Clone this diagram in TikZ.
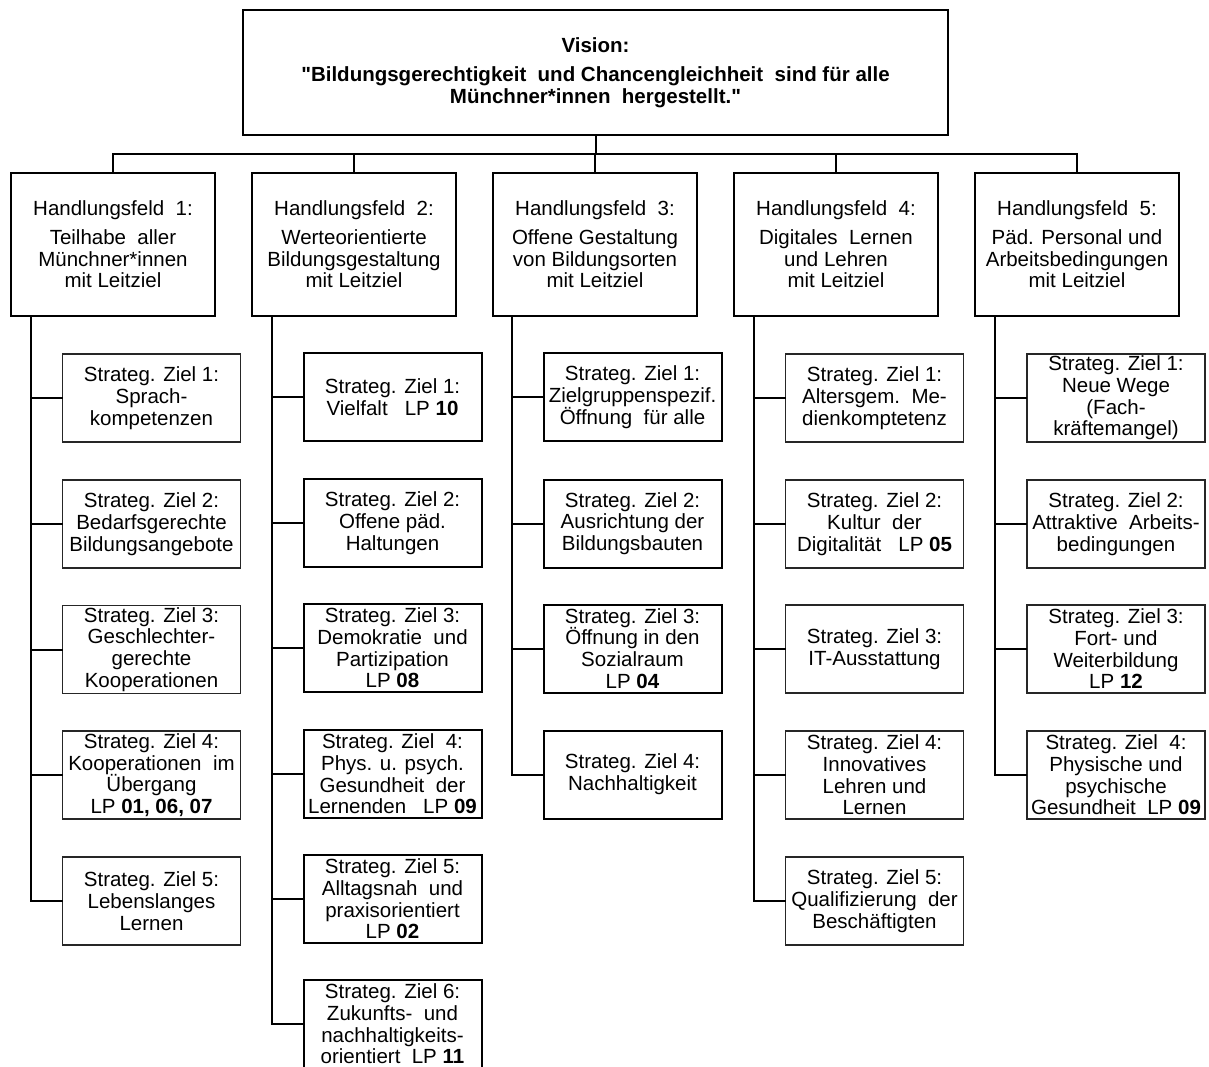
\documentclass[tikz,border=0pt]{standalone}
\usepackage{fontspec}
\setmainfont{Liberation Sans}
\newcommand\myfs{\fontsize{20.5}{21.7}\selectfont}
\begin{document}
\begin{tikzpicture}[x=1pt,y=-1pt,
  vis/.style={draw, line width=2pt, minimum width=705pt, minimum height=125pt, align=center, inner sep=0pt, font=\myfs\bfseries},
  hf/.style={draw, line width=2pt, minimum width=204pt, minimum height=143pt, align=center, inner sep=0pt, font=\myfs},
  sz/.style={draw=black!85, line width=1.3pt, minimum width=178pt, minimum height=88pt, align=center, inner sep=0pt, font=\myfs},
  szb/.style={sz, draw=black, line width=2pt},
  ln/.style={line width=2pt, line cap=rect}]
\useasboundingbox (0,0) rectangle (1209,1066);
\fill[white] (0,0) rectangle (1209,1066);

% Vision
\node[vis] (vis) at (595.5,72.5) {Vision:\\[8pt]\textquotedbl Bildungsgerechtigkeit\ \ und Chancengleichheit\ \ sind für alle\\Münchner*innen\ \ hergestellt.\textquotedbl};

% Handlungsfelder
\node[hf] (hf1) at (113,244.5) {Handlungsfeld\ \ 1:\\[7pt]Teilhabe\ \ aller\\Münchner*innen\\mit Leitziel};
\node[hf] (hf2) at (354,244.5) {Handlungsfeld\ \ 2:\\[7pt]Werteorientierte\\Bildungsgestaltung\\mit Leitziel};
\node[hf] (hf3) at (595,244.5) {Handlungsfeld\ \ 3:\\[7pt]Offene Gestaltung\\von Bildungsorten\\mit Leitziel};
\node[hf] (hf4) at (836,244.5) {Handlungsfeld\ \ 4:\\[7pt]Digitales\ \ Lernen\\und Lehren\\mit Leitziel};
\node[hf] (hf5) at (1077,244.5) {Handlungsfeld\ \ 5:\\[7pt]Päd. Personal und\\Arbeitsbedingungen\\mit Leitziel};

% bus
\coordinate (bus) at (0,154);
\draw[ln] (vis.south) -- (vis.south |- bus);
\draw[ln] (hf1.north) -- (hf1.north |- bus) -- (hf5.north |- bus) -- (hf5.north);
\foreach \k in {2,3,4} \draw[ln] (hf\k.north) -- (hf\k.north |- bus);

% Feld 1
\node[sz] (s11) at (151.5,398) {Strateg. Ziel 1:\\Sprach-\\kompetenzen};
\node[sz] (s12) at (151.5,524) {Strateg. Ziel 2:\\Bedarfsgerechte\\Bildungsangebote};
\node[sz] (s13) at (151.5,649.5) {Strateg. Ziel 3:\\Geschlechter-\\gerechte\\Kooperationen};
\node[sz] (s14) at (151.5,775) {Strateg. Ziel 4:\\Kooperationen\ \ im\\Übergang\\LP \textbf{01, 06, 07}};
\node[sz] (s15) at (151.5,901) {Strateg. Ziel 5:\\Lebenslanges\\Lernen};

% Feld 2
\node[szb] (s21) at (392.5,397) {Strateg. Ziel 1:\\Vielfalt\ \ \ LP \textbf{10}};
\node[szb] (s22) at (392.5,523) {Strateg. Ziel 2:\\Offene päd.\\Haltungen};
\node[szb] (s23) at (392.5,648) {Strateg. Ziel 3:\\Demokratie\ \ und\\Partizipation\\LP \textbf{08}};
\node[szb] (s24) at (392.5,774) {Strateg. Ziel\ \ 4:\\Phys. u. psych.\\Gesundheit\ \ der\\Lernenden\ \ \ LP \textbf{09}};
\node[szb] (s25) at (392.5,899) {Strateg. Ziel 5:\\Alltagsnah\ \ und\\praxisorientiert\\LP \textbf{02}};
\node[szb] (s26) at (392.5,1024) {Strateg. Ziel 6:\\Zukunfts-\ \ und\\nachhaltigkeits-\\orientiert\ \ LP \textbf{11}};

% Feld 3
\node[szb] (s31) at (632.5,397) {Strateg. Ziel 1:\\Zielgruppenspezif.\\Öffnung\ \ für alle};
\node[szb] (s32) at (632.5,523.5) {Strateg. Ziel 2:\\Ausrichtung der\\Bildungsbauten};
\node[szb] (s33) at (632.5,648.5) {Strateg. Ziel 3:\\Öffnung in den\\Sozialraum\\LP \textbf{04}};
\node[szb] (s34) at (632.5,774.5) {Strateg. Ziel 4:\\Nachhaltigkeit};

% Feld 4
\node[sz] (s41) at (874.5,398) {Strateg. Ziel 1:\\Altersgem.\ \ Me-\\dienkomptetenz};
\node[sz] (s42) at (874.5,524) {Strateg. Ziel 2:\\Kultur\ \ der\\Digitalität\ \ \ LP \textbf{05}};
\node[sz] (s43) at (874.5,649) {Strateg. Ziel 3:\\IT-Ausstattung};
\node[sz] (s44) at (874.5,775) {Strateg. Ziel 4:\\Innovatives\\Lehren und\\Lernen};
\node[sz] (s45) at (874.5,901) {Strateg. Ziel 5:\\Qualifizierung\ \ der\\Beschäftigten};

% Feld 5
\node[sz] (s51) at (1116,398) {Strateg. Ziel 1:\\Neue Wege\\(Fach-\\kräftemangel)};
\node[sz] (s52) at (1116,524) {Strateg. Ziel 2:\\Attraktive\ \ Arbeits-\\bedingungen};
\node[sz] (s53) at (1116,649) {Strateg. Ziel 3:\\Fort- und\\Weiterbildung\\LP \textbf{12}};
\node[sz] (s54) at (1116,775) {Strateg. Ziel\ \ 4:\\Physische und\\psychische\\Gesundheit\ \ LP \textbf{09}};

% trunks
\coordinate (t1) at ([xshift=21pt]hf1.south west);
\coordinate (t2) at ([xshift=21pt]hf2.south west);
\coordinate (t3) at ([xshift=20pt]hf3.south west);
\coordinate (t4) at ([xshift=21pt]hf4.south west);
\coordinate (t5) at ([xshift=21pt]hf5.south west);
\draw[ln] (t1) |- (s15.west);
\draw[ln] (t2) |- (s26.west);
\draw[ln] (t3) |- (s34.west);
\draw[ln] (t4) |- (s45.west);
\draw[ln] (t5) |- (s54.west);
\foreach \i in {1,2,3,4} \draw[ln] (s1\i.west) -- (s1\i.west -| t1);
\foreach \i in {1,2,3,4,5} \draw[ln] (s2\i.west) -- (s2\i.west -| t2);
\foreach \i in {1,2,3} \draw[ln] (s3\i.west) -- (s3\i.west -| t3);
\foreach \i in {1,2,3,4} \draw[ln] (s4\i.west) -- (s4\i.west -| t4);
\foreach \i in {1,2,3} \draw[ln] (s5\i.west) -- (s5\i.west -| t5);
\end{tikzpicture}
\end{document}
